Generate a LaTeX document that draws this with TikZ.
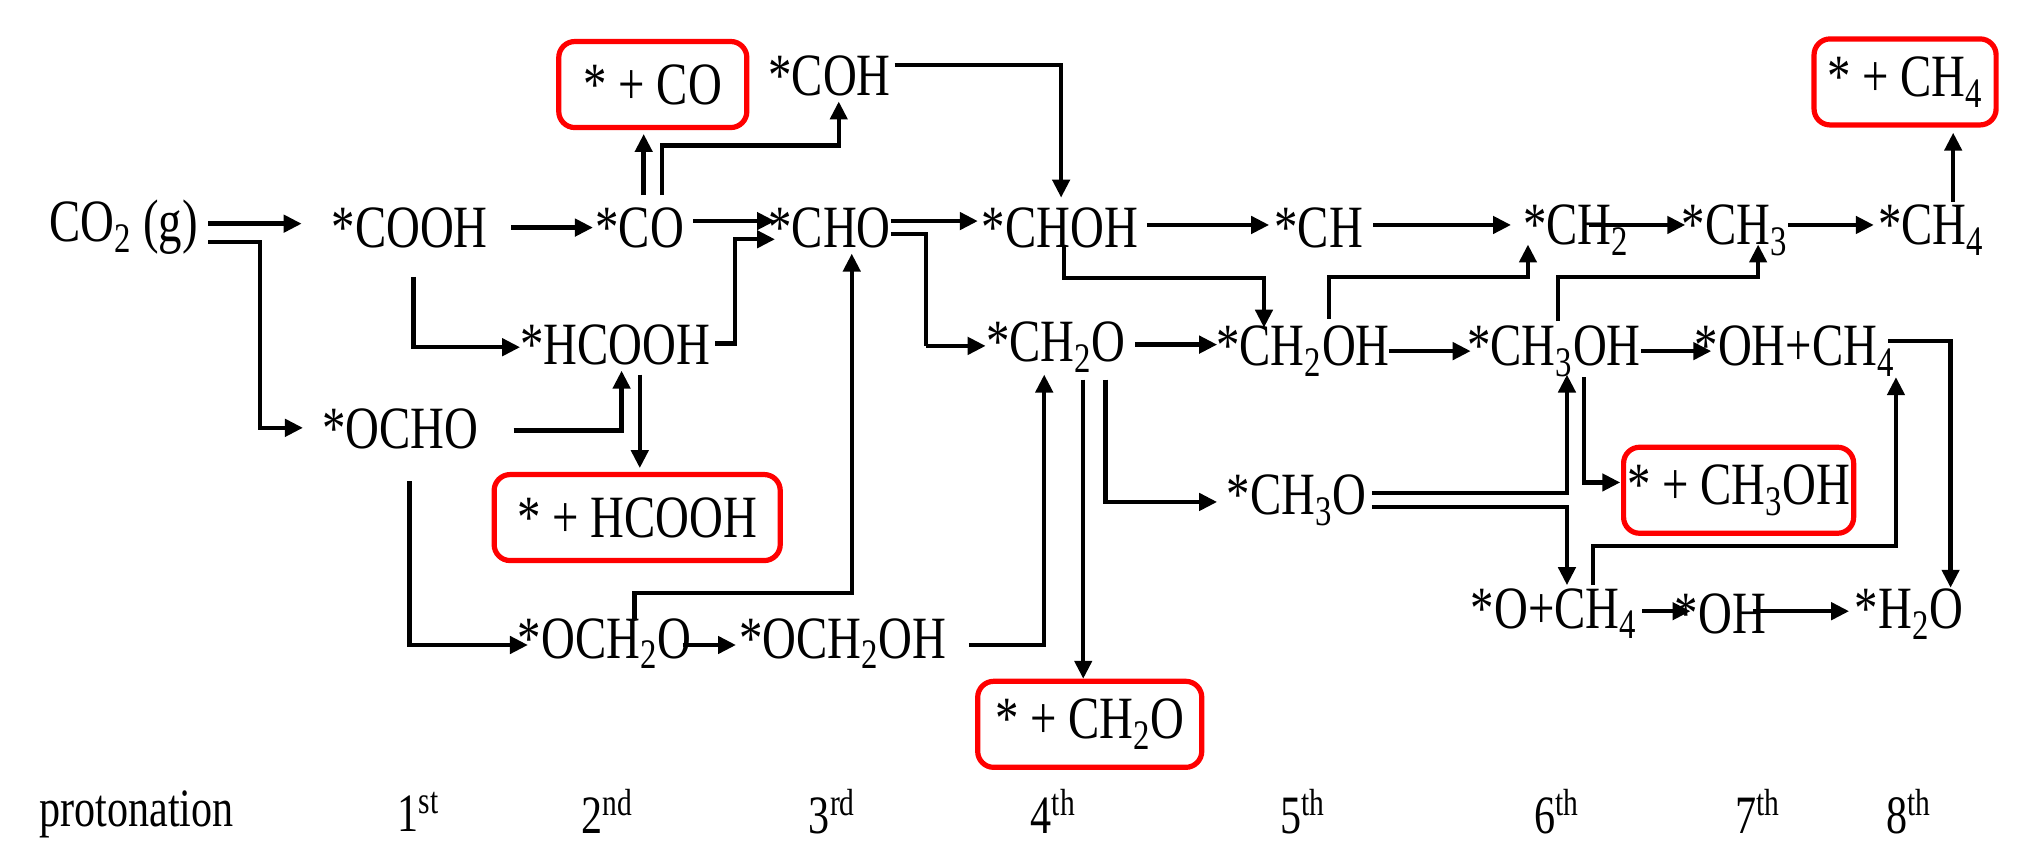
\documentclass[tikz,border=0pt]{standalone}
\usepackage{fontspec}
\setmainfont{Liberation Serif}[FakeStretch=0.78]
\usetikzlibrary{arrows.meta}
\begin{document}
\begin{tikzpicture}[x=0.65pt,y=-0.65pt,
  lbl/.style={inner sep=1pt,font=\fontsize{30}{34}\selectfont},
  prod/.style={lbl,draw=red,line width=2.6pt,rounded corners=8pt,minimum height=43pt},
  bot/.style={inner sep=1pt,font=\fontsize{27}{30}\selectfont},
  arr/.style={line width=2.2pt,-{Triangle[length=9pt,width=8.5pt]}},
  ln/.style={line width=2.2pt}]
\useasboundingbox (0,0) rectangle (1568,654);
\node[lbl] (co2) at (95,175) {CO\textsubscript{2} (g)};
\node[lbl] (cooh) at (315,175) {*COOH};
\node[lbl] (co) at (492,175) {*CO};
\node[lbl] (cho) at (638,175) {*CHO};
\node[lbl] (choh) at (815,175) {*CHOH};
\node[lbl] (ch) at (1014,175) {*CH};
\node[lbl] (ch2) at (1212,177) {*CH\textsubscript{2}};
\node[lbl] (ch3) at (1334,177) {*CH\textsubscript{3}};
\node[lbl] (ch4) at (1485,177) {*CH\textsubscript{4}};
\node[prod,minimum width=94pt] (pco) at (502,65) {* + CO};
\node[lbl] (coh) at (638,58) {*COH};
\node[prod,minimum width=91pt] (pch4) at (1465,63) {* + CH\textsubscript{4}};
\node[lbl] (hcooh) at (473,265) {*HCOOH};
\node[lbl] (ocho) at (308,330) {*OCHO};
\node[prod,minimum width=143pt] (phcooh) at (490,398) {* + HCOOH};
\node[lbl] (och2o) at (465,495) {*OCH\textsubscript{2}O};
\node[lbl] (och2oh) at (648,495) {*OCH\textsubscript{2}OH};
\node[prod,minimum width=112pt] (pch2o) at (838,557) {* + CH\textsubscript{2}O};
\node[lbl] (ch2o) at (812,267) {*CH\textsubscript{2}O};
\node[lbl] (ch2oh) at (1002,270) {*CH\textsubscript{2}OH};
\node[lbl] (ch3oh) at (1195,270) {*CH\textsubscript{3}OH};
\node[lbl] (ohch4) at (1380,270) {*OH+CH\textsubscript{4}};
\node[prod,minimum width=115pt] (pch3oh) at (1337,377) {* + CH\textsubscript{3}OH};
\node[lbl] (ch3o) at (997,385) {*CH\textsubscript{3}O};
\node[lbl] (och4) at (1195,472) {*O+CH\textsubscript{4}};
\node[lbl] (oh) at (1323,472) {*OH};
\node[lbl] (h2o) at (1468,472) {*H\textsubscript{2}O};
\node[bot] (pr) at (105,626) {protonation};
\node[bot] (p1) at (322,624) {1\textsuperscript{st}};
\node[bot] (p2) at (467,624) {2\textsuperscript{nd}};
\node[bot] (p3) at (640,624) {3\textsuperscript{rd}};
\node[bot] (p4) at (810,624) {4\textsuperscript{th}};
\node[bot] (p5) at (1002,624) {5\textsuperscript{th}};
\node[bot] (p6) at (1197,624) {6\textsuperscript{th}};
\node[bot] (p7) at (1352,624) {7\textsuperscript{th}};
\node[bot] (p8) at (1468,624) {8\textsuperscript{th}};
% connectors
\draw[arr] (160,172) -- (232,172);
\draw[arr] (160,186) -- (200,186) -- (200,329) -- (233,329);
\draw[arr] (393,175) -- (456,175);
\draw[arr] (318,213) -- (318,267) -- (400,267);
\draw[arr] (395,331) -- (478,331) -- (478,285);
\draw[arr] (492,288) -- (492,360);
\draw[arr] (550,264) -- (565,264) -- (565,184) -- (596,184);
\draw[arr] (533,170) -- (596,170);
\draw[arr] (495,150) -- (495,103);
\draw[arr] (509,150) -- (509,112) -- (645,112) -- (645,78);
\draw[arr] (688,50) -- (816,50) -- (816,152);
\draw[arr] (685,170) -- (752,170);
\draw[ln] (685,180) -- (712,180) -- (712,266);
\draw[arr] (712,266) -- (758,266);
\draw[arr] (315,370) -- (315,496) -- (406,496);
\draw[arr] (488,477) -- (488,456) -- (655,456) -- (655,195);
\draw[arr] (525,496) -- (566,496);
\draw[arr] (745,496) -- (803,496) -- (803,288);
\draw[arr] (833,292) -- (833,522);
\draw[arr] (850,292) -- (850,386) -- (936,386);
\draw[arr] (873,265) -- (936,265);
\draw[arr] (818,190) -- (818,214) -- (972,214) -- (972,252);
\draw[arr] (882,173) -- (976,173);
\draw[arr] (1056,173) -- (1162,173);
\draw[arr] (1222,173) -- (1296,173);
\draw[arr] (1375,173) -- (1441,173);
\draw[arr] (1502,155) -- (1502,102);
\draw[arr] (1022,245) -- (1022,213) -- (1175,213) -- (1175,188);
\draw[arr] (1068,270) -- (1131,270);
\draw[arr] (1198,247) -- (1198,213) -- (1352,213) -- (1352,188);
\draw[arr] (1262,270) -- (1316,270);
\draw[arr] (1218,290) -- (1218,371) -- (1246,371);
\draw[arr] (1055,379) -- (1205,379) -- (1205,288);
\draw[arr] (1055,390) -- (1205,390) -- (1205,450);
\draw[arr] (1225,450) -- (1225,420) -- (1458,420) -- (1458,290);
\draw[arr] (1452,262) -- (1500,262) -- (1500,452);
\draw[arr] (1263,470) -- (1300,470);
\draw[arr] (1348,470) -- (1422,470);
\end{tikzpicture}
\end{document}
